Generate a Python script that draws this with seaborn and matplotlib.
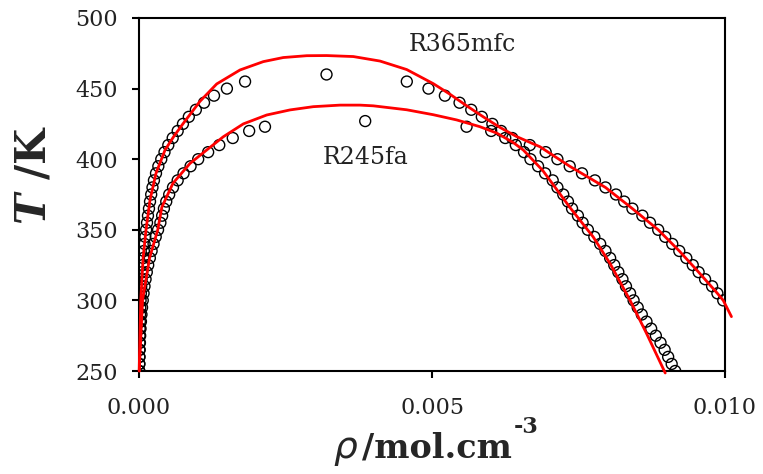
import numpy as np
import pandas as pd
import matplotlib
matplotlib.use("Agg")
import matplotlib.pyplot as plt
import seaborn as sns

# ---------------- data ----------------
# R365mfc simulated coexistence data (open circles)
r365_T_vap = [250, 255, 260, 265, 270, 275, 280, 285, 290, 295, 300, 305, 310, 315, 320,
              325, 330, 335, 340, 345, 350, 355, 360, 365, 370, 375, 380, 385, 390, 395,
              400, 405, 410, 415, 420, 425, 430, 435, 440, 445, 450, 455]
r365_rho_vap = [0.000003, 0.000004, 0.000005, 0.000006, 0.000008, 0.000010, 0.000012, 0.000015,
                0.000018, 0.000022, 0.000027, 0.000032, 0.000038, 0.000045, 0.000053,
                0.000062, 0.000072, 0.000083, 0.000095, 0.000108, 0.000122, 0.000137,
                0.000153, 0.000170, 0.000188, 0.000208, 0.000230, 0.000255, 0.000290,
                0.000330, 0.000380, 0.000435, 0.000500, 0.000575, 0.000660, 0.000750,
                0.000850, 0.000970, 0.001110, 0.001280, 0.001500, 0.001810]
r365_T_liq = [300, 305, 310, 315, 320, 325, 330, 335, 340, 345, 350, 355, 360, 365, 370,
              375, 380, 385, 390, 395, 400, 405, 410, 415, 420, 425, 430, 435, 440, 445,
              450, 455]
r365_rho_liq = [0.00997, 0.00987, 0.00978, 0.00966, 0.00955, 0.00945, 0.00934, 0.00922,
                0.00910, 0.00898, 0.00886, 0.00872, 0.00859, 0.00842, 0.00828, 0.00814,
                0.00796, 0.00778, 0.00756, 0.00735, 0.00714, 0.00694, 0.00667, 0.00637,
                0.00618, 0.00603, 0.00585, 0.00567, 0.00547, 0.00522, 0.00494, 0.00457]
r365_Tc, r365_rhoc = 460.0, 0.00320

# R245fa simulated coexistence data (open circles)
r245_T_vap = [250, 255, 260, 265, 270, 275, 280, 285, 290, 295, 300, 305, 310, 315, 320,
              325, 330, 335, 340, 345, 350, 355, 360, 365, 370, 375, 380, 385, 390, 395,
              400, 405, 410, 415, 420, 423]
r245_rho_vap = [0.000005, 0.000007, 0.000009, 0.000012, 0.000016, 0.000020, 0.000026,
                0.000033, 0.000042, 0.000052, 0.000064, 0.000078, 0.000094, 0.000112,
                0.000133, 0.000157, 0.000185, 0.000215, 0.000248, 0.000285, 0.000325,
                0.000365, 0.000395, 0.000425, 0.000465, 0.000515, 0.000580, 0.000660,
                0.000760, 0.000880, 0.001010, 0.001180, 0.001370, 0.001600, 0.001880,
                0.002150]
r245_T_liq = [250, 255, 260, 265, 270, 275, 280, 285, 290, 295, 300, 305, 310, 315, 320,
              325, 330, 335, 340, 345, 350, 355, 360, 365, 370, 375, 380, 385, 390, 395,
              400, 405, 410, 415, 420, 423]
r245_rho_liq = [0.00915, 0.00909, 0.00903, 0.00897, 0.00890, 0.00882, 0.00874, 0.00866,
                0.00858, 0.00851, 0.00844, 0.00838, 0.00831, 0.00825, 0.00818, 0.00811,
                0.00804, 0.00796, 0.00787, 0.00777, 0.00766, 0.00757, 0.00749, 0.00739,
                0.00732, 0.00724, 0.00714, 0.00706, 0.00693, 0.00681, 0.00668, 0.00657,
                0.00643, 0.00625, 0.00601, 0.00559]
r245_Tc, r245_rhoc = 427.0, 0.00386

# Model curves (red lines), traced vapour side -> top -> liquid side
r365_line_rho = [0.000003, 0.000030, 0.000070, 0.000120, 0.000188, 0.000290, 0.000444,
                 0.000600, 0.000756, 0.001041, 0.001326, 0.001724, 0.002121, 0.002462,
                 0.002862, 0.003203, 0.003657, 0.004113, 0.004568, 0.005022, 0.005307,
                 0.005592, 0.005875, 0.006160, 0.006445, 0.006843, 0.00735, 0.00796,
                 0.00842, 0.00886, 0.00922, 0.00955, 0.00987, 0.00997, 0.01011]
r365_line_T = [250, 300, 330, 350, 371.1, 390, 406.5, 416.5, 425.4, 441.0, 453.3, 463.2,
               469.1, 472.0, 473.3, 473.4, 472.7, 469.5, 463.5, 453.5, 446.0, 437.8, 430.0,
               422.5, 416.0, 408.8, 395, 380, 365, 350, 335, 320, 305, 300, 288.5]
r245_line_rho = [0.000005, 0.000060, 0.000180, 0.000320, 0.000390, 0.000580, 0.000870,
                 0.001155, 0.001439, 0.001780, 0.002179, 0.002577, 0.002974, 0.003430,
                 0.003771, 0.003998, 0.004568, 0.005022, 0.005422, 0.005819, 0.006104,
                 0.006387, 0.006558, 0.00689, 0.00735, 0.00775, 0.00804, 0.00838, 0.00866,
                 0.00898]
r245_line_T = [250, 300, 330, 350, 366, 383, 397, 406.5, 415.9, 425.0, 431.3, 434.9, 437.2,
               438.3, 438.3, 437.8, 435.0, 431.5, 427.8, 423.0, 418.5, 411.8, 406.5, 392,
               366, 345, 326, 300, 276.7, 248.6]

x_ticks = [0.000, 0.005, 0.010]
x_ticklabels = ["0.000", "0.005", "0.010"]
y_ticks = [250, 300, 350, 400, 450, 500]

# ---------------- build tables ----------------
pts = pd.concat([
    pd.DataFrame({"rho": r365_rho_vap + [r365_rhoc] + r365_rho_liq,
                  "T": r365_T_vap + [r365_Tc] + r365_T_liq, "fluid": "R365mfc"}),
    pd.DataFrame({"rho": r245_rho_vap + [r245_rhoc] + r245_rho_liq,
                  "T": r245_T_vap + [r245_Tc] + r245_T_liq, "fluid": "R245fa"}),
], ignore_index=True)
lines = pd.concat([
    pd.DataFrame({"rho": r365_line_rho, "T": r365_line_T, "fluid": "R365mfc"}),
    pd.DataFrame({"rho": r245_line_rho, "T": r245_line_T, "fluid": "R245fa"}),
], ignore_index=True)

# ---------------- style ----------------
sns.set_theme(style="ticks")
plt.rcParams["font.family"] = ["DejaVu Serif"]
plt.rcParams["mathtext.fontset"] = "dejavuserif"
plt.rcParams["axes.linewidth"] = 1.5

fig = plt.figure(figsize=(7.63, 4.74), dpi=100)
ax = fig.add_axes([139 / 763, 1 - 371 / 474, (725 - 139) / 763, (371 - 18) / 474])

sns.scatterplot(data=pts, x="rho", y="T", ax=ax, marker="o", s=62,
                facecolor="none", edgecolor="black", linewidth=1.0, legend=False,
                zorder=2)
for fl in ["R365mfc", "R245fa"]:
    sub = lines[lines["fluid"] == fl]
    sns.lineplot(data=sub, x="rho", y="T", ax=ax, sort=False, estimator=None,
                 color="#ff0000", linewidth=2.0, legend=False, zorder=3)
for ln in ax.lines:
    ln.set_clip_on(False)
    ln.set_solid_joinstyle("round")

ax.set_xlim(0, 0.010)
ax.set_ylim(250, 500)
ax.set_xticks(x_ticks)
ax.set_xticklabels(x_ticklabels)
ax.set_yticks(y_ticks)
for s in ax.spines.values():
    s.set_visible(True)
    s.set_color("black")
    s.set_linewidth(1.5)
ax.tick_params(axis="both", direction="out", colors="black", labelsize=16,
               width=1.5, length=5)
ax.tick_params(axis="x", pad=14)
ax.tick_params(axis="y", pad=10)
for lab in ax.get_xticklabels() + ax.get_yticklabels():
    lab.set_color("#222222")

ax.text(0.00551, 481, "R365mfc", fontsize=17, ha="center", va="center", color="#222222")
ax.text(0.00386, 401, "R245fa", fontsize=17, ha="center", va="center", color="#222222")

ax.set_xlabel("")
ax.set_ylabel("")
# y label: bold italic T, bold "/K"
fig.text(33 / 763, 1 - 175 / 474, r"$\mathbfit{T}$ /K", rotation=90, ha="center",
         va="center", fontsize=30, fontweight="bold")
# x label: italic rho + bold "/mol.cm" + superscript "-3"
base_y = 1 - 458 / 474
fig.text(333 / 763, base_y, "ρ", ha="left", va="baseline", fontsize=27,
         family="DejaVu Sans", fontstyle="italic")
fig.text(362 / 763, base_y, "/mol.cm", ha="left", va="baseline", fontsize=24,
         fontweight="bold")
fig.text(514 / 763, 1 - 433 / 474, "-3", ha="left", va="baseline", fontsize=16,
         fontweight="bold")

fig.savefig("out.png", dpi=100)
